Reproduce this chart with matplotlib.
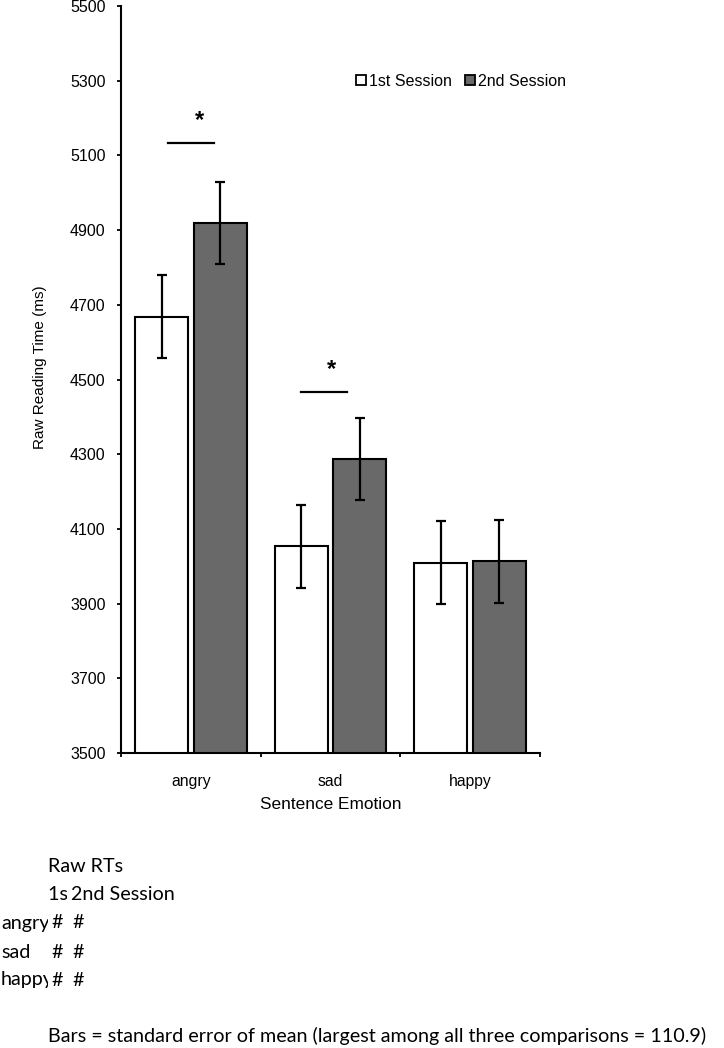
import matplotlib
matplotlib.use("Agg")
import matplotlib.pyplot as plt
from matplotlib.lines import Line2D
from matplotlib.patches import Rectangle
import numpy as np

# ---------- données ----------
categories = ["angry", "sad", "happy"]
session1 = [4668, 4053, 4009]
session2 = [4919, 4287, 4013]
sem1 = [110.9, 110.9, 110.9]
sem2 = [110.9, 110.9, 110.9]
series_labels = ["1st Session", "2nd Session"]
yticks = [3500, 3700, 3900, 4100, 4300, 4500, 4700, 4900, 5100, 5300, 5500]

# significativité : catégorie, niveau, étendue de la barre, position de l'étoile
sig_cats = [0, 1]
sig_levels = [5133, 4467]
sig_left = [-0.165, -0.21]
sig_right = [0.165, 0.12]
sig_star = [0.065, 0.01]

# tableau sous le graphique
table_rows = ["angry", "sad", "happy"]
caption = "Bars = standard error of mean (largest among all three comparisons = 110.9)"

W, H = 724, 1048
fig = plt.figure(figsize=(W / 100, H / 100), dpi=100)
fig.patch.set_facecolor("white")

ax = fig.add_axes([121 / W, 1 - 753 / H, 419 / W, 747 / H])

x = np.arange(len(categories)) + 0.5
bw = 0.38
off = 0.21
ekw = dict(elinewidth=1.6, capsize=3.3, capthick=1.6, ecolor="black")
ax.bar(x - off, session1, bw, color="white", edgecolor="black",
       linewidth=1.5, yerr=sem1, error_kw=ekw, zorder=2)
ax.bar(x + off, session2, bw, color="#696969", edgecolor="black",
       linewidth=1.5, yerr=sem2, error_kw=ekw, zorder=2)

ax.set_xlim(0, 3)
ax.set_ylim(3500, 5500)
ax.set_yticks(yticks)
ax.set_yticklabels([str(t) for t in yticks], fontsize=11.5, family="Liberation Sans")
ax.set_xticks([0, 1, 2, 3])
ax.set_xticklabels([])
ax.set_xticks(x, minor=True)
ax.set_xticklabels(categories, minor=True, fontsize=11.3, family="Liberation Sans")
ax.tick_params(axis="y", direction="out", length=3, width=1.3, pad=8)
ax.tick_params(axis="x", which="major", direction="out", length=3, width=1.3)
ax.tick_params(axis="x", which="minor", length=0, pad=15)

for s in ["top", "right"]:
    ax.spines[s].set_visible(False)
for s in ["left", "bottom"]:
    ax.spines[s].set_linewidth(1.5)

ax.set_ylabel("Raw Reading Time (ms)", fontsize=11, family="Liberation Sans")
ax.yaxis.set_label_coords((47 - 121) / 419, (753 - 367) / 747)
ax.set_xlabel("Sentence Emotion", fontsize=12.4, family="Liberation Sans")
ax.xaxis.set_label_coords(0.5, -(797 - 753) / 747)

# lignes de significativité
for c, lvl, l, r, st in zip(sig_cats, sig_levels, sig_left, sig_right, sig_star):
    ax.plot([x[c] + l, x[c] + r], [lvl, lvl], color="black", lw=1.6)
    ax.text(x[c] + st, lvl + 30, "*", ha="center", va="bottom",
            fontsize=17, fontweight="bold", family="Liberation Sans")

# légende
handles = [
    Line2D([], [], marker="s", ls="", markersize=7.5, markerfacecolor="white",
           markeredgecolor="black", markeredgewidth=1.3),
    Line2D([], [], marker="s", ls="", markersize=7.5, markerfacecolor="#696969",
           markeredgecolor="black", markeredgewidth=1.3),
]
fig.legend(handles, series_labels, loc="center", ncol=2, frameon=False,
           bbox_to_anchor=(461 / W, 1 - 81 / H), handlelength=0.6,
           handletextpad=0.2, columnspacing=0.8,
           prop={"family": "Liberation Sans", "size": 11.5})

# texte sous le graphique (style tableur, cellules tronquées)
FS = 14.2
tfont = dict(family="Lato", fontsize=FS, va="center", ha="left")


def fy(py):
    return 1 - py / H


def mask(x0, x1, y0, y1):
    fig.add_artist(Rectangle((x0 / W, fy(y1)), (x1 - x0) / W, (y1 - y0) / H,
                             transform=fig.transFigure, facecolor="white",
                             edgecolor="none", zorder=3.5))


fig.text(48 / W, fy(867), "Raw RTs", **tfont)
fig.text(48 / W, fy(895), series_labels[0], **tfont)
mask(67, 200, 882, 908)
fig.text(71 / W, fy(895), series_labels[1], zorder=4, **tfont)

rows_y = [923, 952, 980]
for lab, py in zip(table_rows, rows_y):
    fig.text(1 / W, fy(py), lab, **tfont)
    mask(48, 100, py - 13, py + 13)
    fig.text(57 / W, fy(py), "#", ha="center", va="center", family="Lato",
             fontsize=FS, zorder=4)
    fig.text(78 / W, fy(py), "#", ha="center", va="center", family="Lato",
             fontsize=FS, zorder=4)

fig.text(48 / W, fy(1036), caption, **tfont)

fig.savefig("out.png", dpi=100, facecolor="white")
